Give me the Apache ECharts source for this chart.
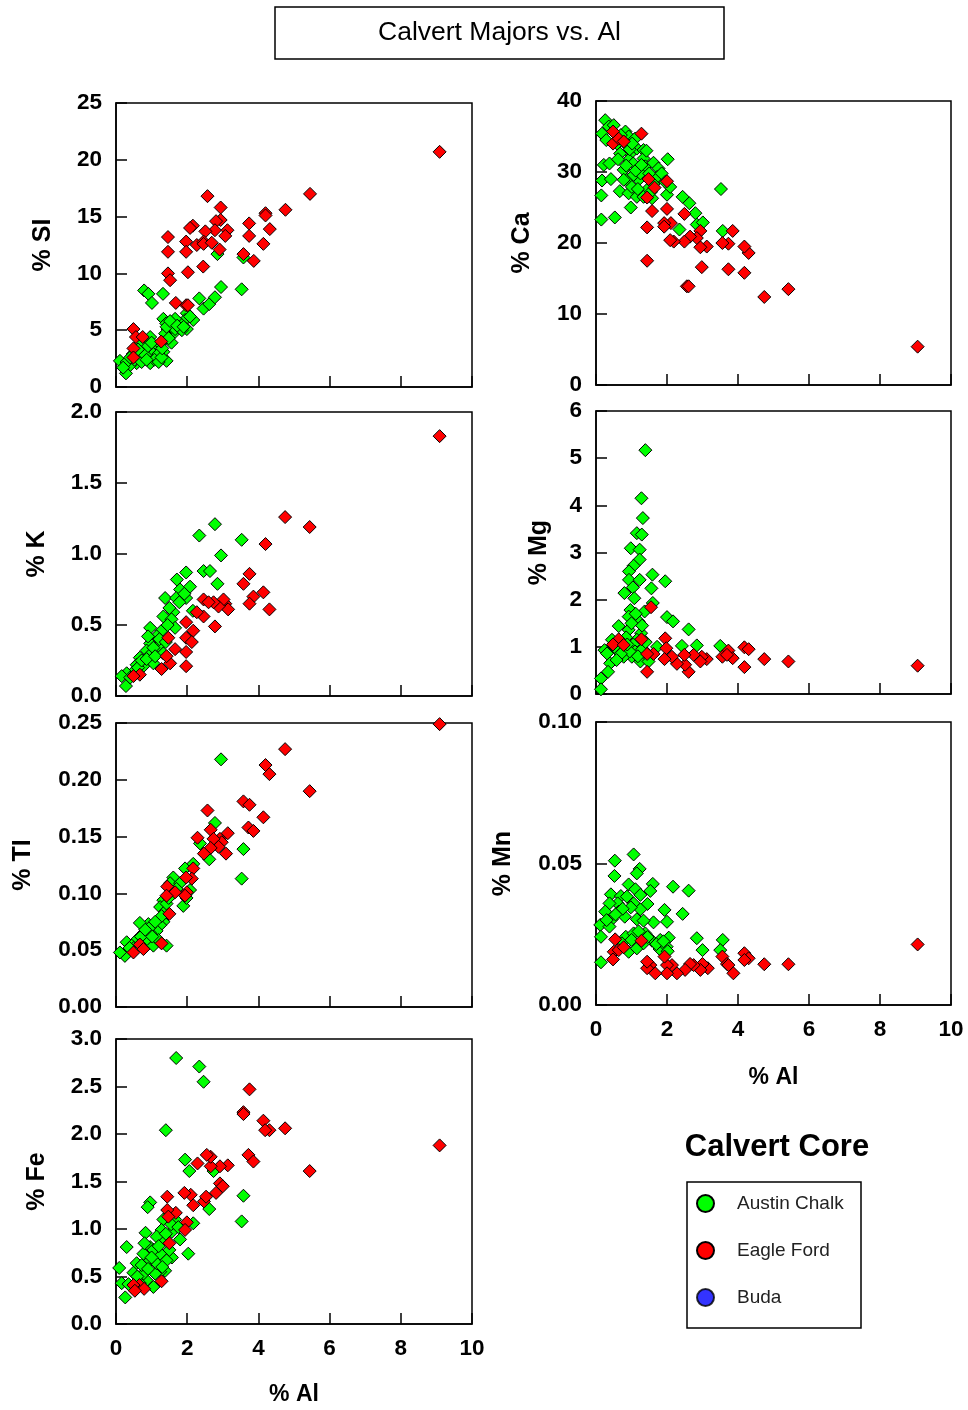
<!DOCTYPE html>
<html>
<head>
<meta charset="utf-8">
<script src="https://cdn.jsdelivr.net/npm/echarts@6/dist/echarts.min.js"></script>
<style>
html,body{margin:0;padding:0;background:#fff;}
#chart{width:968px;height:1410px;}
</style>
</head>
<body>
<div id="chart"></div>
<script>
// ---------- DATA: [Al %, element %] ----------
const siAustin = [[0.79,8.5],[0.91,8.2],[1.01,7.4],[1.32,8.2],[2.95,8.8],[3.53,8.6],[2.85,11.7],[3.58,11.4],[2.34,7.8],[2.46,6.9],[2.62,7.3],[2.78,7.9],[2.17,5.9],[1.99,6.5],[1.94,5.9],[1.80,5.6],[1.66,6.0],[1.33,6.0],[1.45,5.1],[1.61,4.7],[1.56,3.9],[1.41,5.6],[1.99,5.1],[1.42,2.3],[1.33,3.1],[1.14,3.5],[0.96,4.4],[0.96,3.2],[0.96,2.6],[0.96,2.1],[0.77,3.2],[0.67,2.6],[0.58,2.1],[0.39,1.9],[0.28,1.2],[0.11,2.3],[0.30,2.2],[1.14,2.5],[1.24,3.8],[0.86,3.8],[1.05,2.9],[1.19,2.9],[0.67,3.8],[0.47,2.9],[1.66,5.1],[1.85,5.0],[1.38,4.7],[1.42,5.3],[0.20,1.7],[0.52,2.4],[0.62,3.3],[0.72,2.2],[0.82,2.8],[0.90,3.6],[1.00,3.9],[1.08,2.4],[1.20,2.2],[1.28,2.6],[1.30,3.4],[1.48,4.3],[1.52,5.8],[1.72,5.4],[1.90,5.3],[2.08,6.2],[0.40,2.6],[0.86,2.4]];
const siEagle = [[9.09,20.7],[5.45,17.0],[4.76,15.6],[4.20,15.3],[4.20,15.1],[4.32,13.9],[4.14,12.6],[3.74,14.4],[3.74,13.3],[3.87,11.1],[3.58,11.7],[2.57,16.8],[2.94,15.8],[2.94,14.7],[2.81,14.6],[2.78,13.8],[2.51,13.7],[3.13,13.8],[3.07,13.3],[2.16,14.2],[2.08,14.0],[1.97,12.8],[1.97,11.9],[2.02,10.1],[2.27,12.5],[2.46,12.8],[2.46,12.6],[2.69,12.7],[2.91,12.1],[2.45,10.6],[1.46,13.2],[1.46,11.9],[1.46,10.0],[1.52,9.4],[1.68,7.4],[1.97,7.2],[2.02,7.2],[0.49,5.1],[0.56,4.4],[0.75,4.4],[0.49,3.4],[0.49,2.6],[1.27,4.0]];

const caAustin = [[0.26,37.3],[0.17,35.4],[0.36,36.4],[0.50,36.6],[0.29,34.5],[0.22,31.0],[0.38,31.2],[0.17,28.8],[0.15,26.7],[0.42,29.0],[0.15,23.3],[0.53,23.6],[0.67,27.3],[0.98,25.0],[0.83,35.7],[0.92,35.0],[0.78,30.3],[0.87,28.9],[0.92,27.0],[1.15,26.5],[0.97,32.6],[0.92,31.7],[1.15,33.3],[1.34,33.1],[1.34,31.9],[1.39,30.8],[1.20,28.9],[1.44,27.5],[1.62,31.3],[1.76,30.5],[1.72,29.3],[2.02,31.8],[2.00,26.8],[2.09,27.9],[1.58,26.3],[1.34,26.5],[2.44,26.5],[2.63,25.6],[2.80,24.2],[2.84,22.6],[3.01,22.9],[2.35,21.9],[3.52,27.6],[3.57,21.7],[1.06,29.6],[1.01,27.9],[0.87,33.8],[1.10,34.7],[0.68,32.6],[0.59,34.0],[1.25,29.8],[0.78,28.9],[0.70,35.2],[0.95,33.2],[1.05,31.2],[1.12,30.2],[1.28,31.0],[1.50,29.8],[1.62,28.3],[1.85,29.8],[1.95,28.6],[1.55,27.2],[1.18,27.6],[0.85,30.9],[0.62,31.8],[1.42,33.0],[1.02,34.0]];
const caEagle = [[9.06,5.4],[5.42,13.5],[4.74,12.4],[4.30,18.6],[4.18,19.5],[4.18,15.8],[3.85,21.7],[3.73,19.9],[3.56,20.0],[3.73,16.3],[2.98,16.6],[2.94,21.7],[3.12,19.5],[2.94,19.4],[2.84,20.7],[2.65,20.9],[2.49,20.2],[2.49,24.1],[2.56,13.9],[2.61,13.9],[2.19,20.2],[2.09,20.4],[2.11,22.8],[1.92,22.8],[1.92,22.3],[2.00,24.8],[2.00,28.7],[1.65,27.8],[1.58,24.5],[1.44,26.4],[1.44,22.2],[1.44,17.5],[1.28,35.4],[0.48,35.7],[0.48,34.0],[0.64,34.7],[0.78,34.3],[1.48,29.0]];

const kAustin = [[2.78,1.21],[2.34,1.13],[3.53,1.10],[2.95,0.99],[2.46,0.88],[2.64,0.88],[2.85,0.79],[1.97,0.87],[1.71,0.82],[1.80,0.75],[2.08,0.77],[1.97,0.69],[1.38,0.69],[1.69,0.69],[2.16,0.60],[1.61,0.59],[1.33,0.56],[1.56,0.54],[1.66,0.48],[0.96,0.48],[1.28,0.46],[1.14,0.42],[0.96,0.37],[0.86,0.32],[1.19,0.35],[0.96,0.29],[0.67,0.27],[0.77,0.21],[0.58,0.22],[0.49,0.17],[0.30,0.16],[0.16,0.14],[0.28,0.07],[1.05,0.23],[1.33,0.30],[1.05,0.34],[0.62,0.20],[0.72,0.25],[0.86,0.26],[1.10,0.28],[1.22,0.40],[1.45,0.50],[1.50,0.62],[1.78,0.66],[1.92,0.72],[0.40,0.13],[0.90,0.42],[1.40,0.38]];
const kEagle = [[9.09,1.83],[5.44,1.19],[4.75,1.26],[4.20,1.07],[4.14,0.73],[4.31,0.61],[3.75,0.86],[3.58,0.79],[3.86,0.70],[3.75,0.65],[3.07,0.65],[3.15,0.61],[3.02,0.68],[2.88,0.63],[2.74,0.66],[2.46,0.68],[2.60,0.66],[2.78,0.49],[2.46,0.56],[2.27,0.59],[2.17,0.46],[1.97,0.52],[1.97,0.41],[2.13,0.38],[1.97,0.31],[1.97,0.21],[1.66,0.33],[1.47,0.41],[1.52,0.23],[1.28,0.19],[0.67,0.15],[0.49,0.14],[1.42,0.28]];

const mgAustin = [[1.39,5.17],[1.28,4.15],[1.32,3.73],[1.15,3.41],[1.29,3.38],[0.98,3.09],[1.23,3.06],[1.23,2.85],[1.06,2.72],[0.93,2.60],[0.93,2.42],[1.23,2.42],[1.04,2.26],[0.80,2.14],[1.08,2.03],[1.59,2.53],[1.56,2.24],[1.95,2.39],[1.60,1.93],[1.37,1.75],[0.97,1.78],[0.92,1.64],[1.20,1.54],[0.64,1.44],[0.92,1.36],[2.00,1.63],[2.17,1.54],[2.61,1.37],[1.27,1.29],[2.42,1.02],[2.84,1.03],[3.50,1.02],[1.72,1.00],[1.44,0.86],[1.25,0.69],[1.48,0.69],[1.01,0.79],[0.78,0.79],[0.59,0.93],[0.40,0.65],[0.34,0.47],[0.14,0.33],[0.14,0.10],[0.24,0.93],[0.45,1.15],[0.68,1.00],[1.15,1.15],[0.31,0.86],[0.85,1.20],[1.05,1.05],[1.10,0.90],[1.30,0.95],[0.95,0.90],[0.70,0.85],[0.52,1.00],[1.00,1.50],[1.12,1.70],[1.30,1.45],[0.88,1.05],[1.18,0.80],[1.40,1.10],[0.58,0.72]];
const mgEagle = [[9.06,0.60],[5.42,0.69],[4.74,0.74],[4.18,0.99],[4.30,0.95],[4.18,0.57],[3.73,0.92],[3.85,0.76],[3.56,0.79],[3.69,0.83],[3.12,0.74],[2.98,0.79],[2.94,0.69],[2.75,0.83],[2.61,0.47],[2.51,0.62],[2.49,0.83],[2.28,0.64],[2.14,0.79],[1.95,1.18],[1.98,0.97],[1.93,0.74],[1.62,0.85],[1.44,0.85],[1.44,0.47],[1.28,1.16],[1.55,1.84],[0.64,1.16],[0.48,1.05],[0.78,1.04]];

const tiAustin = [[2.95,0.218],[2.78,0.162],[3.58,0.139],[3.53,0.113],[2.62,0.130],[2.36,0.144],[2.17,0.126],[1.94,0.122],[1.61,0.114],[1.52,0.109],[1.80,0.109],[2.08,0.103],[1.89,0.089],[1.61,0.100],[1.33,0.094],[1.24,0.088],[1.38,0.084],[1.33,0.075],[1.24,0.072],[1.14,0.067],[0.91,0.073],[0.67,0.074],[0.96,0.065],[0.86,0.059],[0.58,0.059],[0.30,0.057],[0.25,0.045],[0.11,0.048],[1.42,0.054],[1.05,0.054],[1.19,0.059],[0.44,0.054],[0.77,0.065],[1.42,0.091],[0.50,0.052],[0.70,0.062],[0.95,0.070],[1.02,0.062],[1.28,0.080],[1.48,0.096],[1.70,0.104],[1.98,0.096],[1.10,0.075],[0.82,0.068],[0.38,0.052]];
const tiEagle = [[9.09,0.249],[4.75,0.227],[4.20,0.213],[4.31,0.205],[5.44,0.190],[3.58,0.181],[3.75,0.178],[4.14,0.167],[3.72,0.158],[3.86,0.155],[2.57,0.173],[2.66,0.156],[2.29,0.149],[3.14,0.153],[2.92,0.148],[2.97,0.145],[2.74,0.148],[2.88,0.141],[2.66,0.140],[2.47,0.135],[3.09,0.135],[2.17,0.122],[2.13,0.113],[1.97,0.114],[1.99,0.101],[1.94,0.098],[1.66,0.101],[1.44,0.106],[1.42,0.098],[1.50,0.082],[1.28,0.056],[0.67,0.055],[0.49,0.048],[0.77,0.051]];

const mnAustin = [[1.06,0.0532],[0.53,0.0510],[0.52,0.0456],[1.23,0.0481],[1.15,0.0465],[0.92,0.0426],[1.60,0.0428],[2.17,0.0418],[2.61,0.0404],[1.53,0.0403],[0.42,0.0391],[0.70,0.0385],[0.87,0.0383],[1.11,0.0409],[1.25,0.0389],[1.45,0.0357],[1.06,0.0359],[0.61,0.0359],[0.38,0.0359],[1.93,0.0336],[2.44,0.0322],[0.26,0.0330],[0.64,0.0330],[1.25,0.0338],[0.81,0.0312],[1.15,0.0303],[1.62,0.0292],[2.00,0.0294],[0.45,0.0303],[0.12,0.0283],[0.38,0.0277],[1.34,0.0298],[0.14,0.0241],[0.84,0.0241],[1.06,0.0253],[1.39,0.0253],[1.58,0.0227],[1.81,0.0230],[2.05,0.0238],[2.84,0.0236],[3.57,0.0230],[3.00,0.0194],[3.50,0.0194],[1.79,0.0198],[0.92,0.0188],[0.14,0.0151],[1.15,0.0200],[1.99,0.0206],[0.73,0.0218],[1.34,0.0218],[0.98,0.0345],[0.75,0.0340],[0.55,0.0320],[1.20,0.0260],[1.00,0.0230],[0.30,0.0300],[1.70,0.0215],[1.90,0.0225],[2.02,0.0190],[1.45,0.0240]];
const mnEagle = [[9.06,0.0214],[5.42,0.0144],[4.74,0.0144],[4.18,0.0183],[4.30,0.0165],[4.18,0.0159],[3.56,0.0171],[3.69,0.0145],[3.73,0.0141],[3.87,0.0112],[3.15,0.0130],[3.00,0.0145],[2.94,0.0124],[2.75,0.0141],[2.65,0.0145],[2.51,0.0124],[2.28,0.0112],[2.14,0.0141],[2.00,0.0141],[2.00,0.0112],[1.67,0.0112],[1.53,0.0141],[1.44,0.0130],[1.44,0.0153],[1.28,0.0227],[0.54,0.0232],[0.50,0.0188],[0.48,0.0161],[0.64,0.0194],[0.78,0.0204],[1.93,0.0171]];

const feAustin = [[1.69,2.80],[2.34,2.71],[2.46,2.55],[1.40,2.04],[1.94,1.73],[2.06,1.61],[2.74,1.61],[3.58,1.35],[3.53,1.08],[2.62,1.21],[0.96,1.28],[0.89,1.23],[2.17,1.06],[2.03,0.74],[1.80,0.89],[1.57,0.97],[1.57,0.70],[1.66,1.10],[1.33,1.10],[1.28,0.99],[1.33,0.89],[1.24,0.74],[1.38,0.56],[1.24,0.55],[0.83,0.96],[0.96,0.81],[0.96,0.67],[0.77,0.74],[0.58,0.64],[0.49,0.54],[0.30,0.81],[0.09,0.59],[0.16,0.43],[0.26,0.28],[0.44,0.39],[1.05,0.39],[0.86,0.46],[1.10,0.53],[1.14,0.64],[1.14,0.92],[1.50,0.78],[1.42,0.67],[1.05,0.78],[0.77,0.53],[0.67,0.43],[0.60,0.50],[0.72,0.62],[0.90,0.58],[1.00,0.70],[1.20,0.82],[1.40,0.95],[1.55,1.05],[1.75,1.02],[0.35,0.42],[0.80,0.85],[1.30,0.60]];
const feEagle = [[9.09,1.88],[5.44,1.61],[4.75,2.06],[4.14,2.14],[4.31,2.04],[4.19,2.04],[3.75,2.47],[3.58,2.23],[3.58,2.21],[3.72,1.78],[3.86,1.71],[3.14,1.67],[2.92,1.66],[2.66,1.66],[2.66,1.76],[2.55,1.78],[2.29,1.69],[2.92,1.48],[3.00,1.45],[2.81,1.38],[2.47,1.29],[2.53,1.34],[2.10,1.36],[2.17,1.25],[1.92,1.38],[1.99,1.07],[1.94,0.99],[1.68,1.17],[1.44,1.34],[1.44,1.20],[1.47,1.13],[1.50,0.85],[1.28,0.45],[0.66,0.41],[0.49,0.41],[0.79,0.37],[0.53,0.35]];

const seriesNames = ['Austin Chalk', 'Eagle Ford', 'Buda'];
const panelLabels = ['% SI', '% Ca', '% K', '% Mg', '% TI', '% Mn', '% Fe'];
const yMaxes = [25, 40, 2.0, 6, 0.25, 0.10, 3.0];
const yIntervals = [5, 10, 0.5, 1, 0.05, 0.05, 0.5];
const yDecimals = [0, 0, 1, 0, 2, 2, 1];
const xMax = 10, xInterval = 2;
const xTitle = '% Al';
const chartTitle = 'Calvert Majors vs. Al';
const legendTitle = 'Calvert Core';
const austinSets = [siAustin, caAustin, kAustin, mgAustin, tiAustin, mnAustin, feAustin];
const eagleSets = [siEagle, caEagle, kEagle, mgEagle, tiEagle, mnEagle, feEagle];

// ---------- LAYOUT ----------
const gridBoxes = [
  {left:116, top:103, width:356, height:284},
  {left:596, top:101, width:355, height:284},
  {left:116, top:412, width:356, height:284},
  {left:596, top:411, width:355, height:283},
  {left:116, top:723, width:356, height:284},
  {left:596, top:722, width:355, height:283},
  {left:116, top:1039, width:356, height:285}
];
const nameGaps = [60, 61, 66, 44, 80, 80, 66];
const showXLabels = [false, false, false, false, false, true, true];
const xNameGaps = [0,0,0,0,0,61,59];

const FONT = '"Liberation Sans", Arial, sans-serif';
const GREEN = '#00ff00', RED = '#ff0000', BLUE = '#0000ff';
const MARK = 13;

const grids = [], xAxes = [], yAxes = [], series = [];
gridBoxes.forEach((g, i) => {
  grids.push(Object.assign({show:true, borderColor:'#000', borderWidth:1.5, backgroundColor:'#fff'}, g));
  xAxes.push({
    type:'value', gridIndex:i, min:0, max:xMax, interval:xInterval,
    axisLine:{show:true, lineStyle:{color:'#000', width:1.5}},
    axisTick:{show:true, inside:true, length:11, lineStyle:{color:'#000', width:1.5}},
    axisLabel:{show:showXLabels[i], margin:13, color:'#000', fontFamily:FONT, fontWeight:'bold', fontSize:22.5},
    splitLine:{show:false},
    name: showXLabels[i] ? xTitle : '', nameLocation:'middle', nameGap:xNameGaps[i],
    nameTextStyle:{color:'#000', fontFamily:FONT, fontWeight:'bold', fontSize:23}
  });
  yAxes.push({
    type:'value', gridIndex:i, min:0, max:yMaxes[i], interval:yIntervals[i],
    axisLine:{show:true, lineStyle:{color:'#000', width:1.5}},
    axisTick:{show:true, inside:true, length:11, lineStyle:{color:'#000', width:1.5}},
    axisLabel:{margin:14, color:'#000', fontFamily:FONT, fontWeight:'bold', fontSize:22.5,
      formatter:(v) => Number(v).toFixed(yDecimals[i])},
    splitLine:{show:false},
    name:panelLabels[i], nameLocation:'middle', nameGap:nameGaps[i], nameRotate:90,
    nameTextStyle:{color:'#000', fontFamily:FONT, fontWeight:'bold', fontSize:25}
  });
  series.push({
    type:'scatter', name:seriesNames[0], xAxisIndex:i, yAxisIndex:i, data:austinSets[i],
    symbol:'diamond', symbolSize:MARK, itemStyle:{color:GREEN, borderColor:'#000', borderWidth:1, opacity:1},
    emphasis:{disabled:true}
  });
  series.push({
    type:'scatter', name:seriesNames[1], xAxisIndex:i, yAxisIndex:i, data:eagleSets[i],
    symbol:'diamond', symbolSize:MARK, itemStyle:{color:RED, borderColor:'#000', borderWidth:1, opacity:1},
    emphasis:{disabled:true}
  });
});
series.push({
  type:'scatter', name:seriesNames[2], xAxisIndex:0, yAxisIndex:0, data:[],
  symbol:'diamond', symbolSize:MARK, itemStyle:{color:BLUE, borderColor:'#000', borderWidth:1}
});

const chart = echarts.init(document.getElementById('chart'), null, {renderer:'canvas'});
chart.setOption({
  animation:false,
  backgroundColor:'#fff',
  grid:grids, xAxis:xAxes, yAxis:yAxes, series:series,
  legend:{
    data:seriesNames, orient:'vertical', left:696, top:1194, padding:0,
    itemGap:28, itemWidth:19, itemHeight:17, icon:'circle', selectedMode:false,
    textStyle:{color:'#222', fontFamily:FONT, fontSize:19, padding:[0,0,0,17]}
  },
  graphic:[
    {type:'rect', shape:{x:275, y:7, width:449, height:52}, style:{fill:'#fff', stroke:'#000', lineWidth:1.5}, z:10},
    {type:'text', x:499.5, y:33, style:{text:chartTitle, fill:'#000', font:'26.5px ' + FONT, textAlign:'center', textVerticalAlign:'middle'}, z:11},
    {type:'text', x:777, y:1147, style:{text:legendTitle, fill:'#000', font:'bold 31px ' + FONT, textAlign:'center', textVerticalAlign:'middle'}, z:11},
    {type:'rect', shape:{x:687, y:1182, width:174, height:146}, style:{fill:'none', stroke:'#000', lineWidth:1.5}, z:10}
  ]
});
</script>
</body>
</html>
